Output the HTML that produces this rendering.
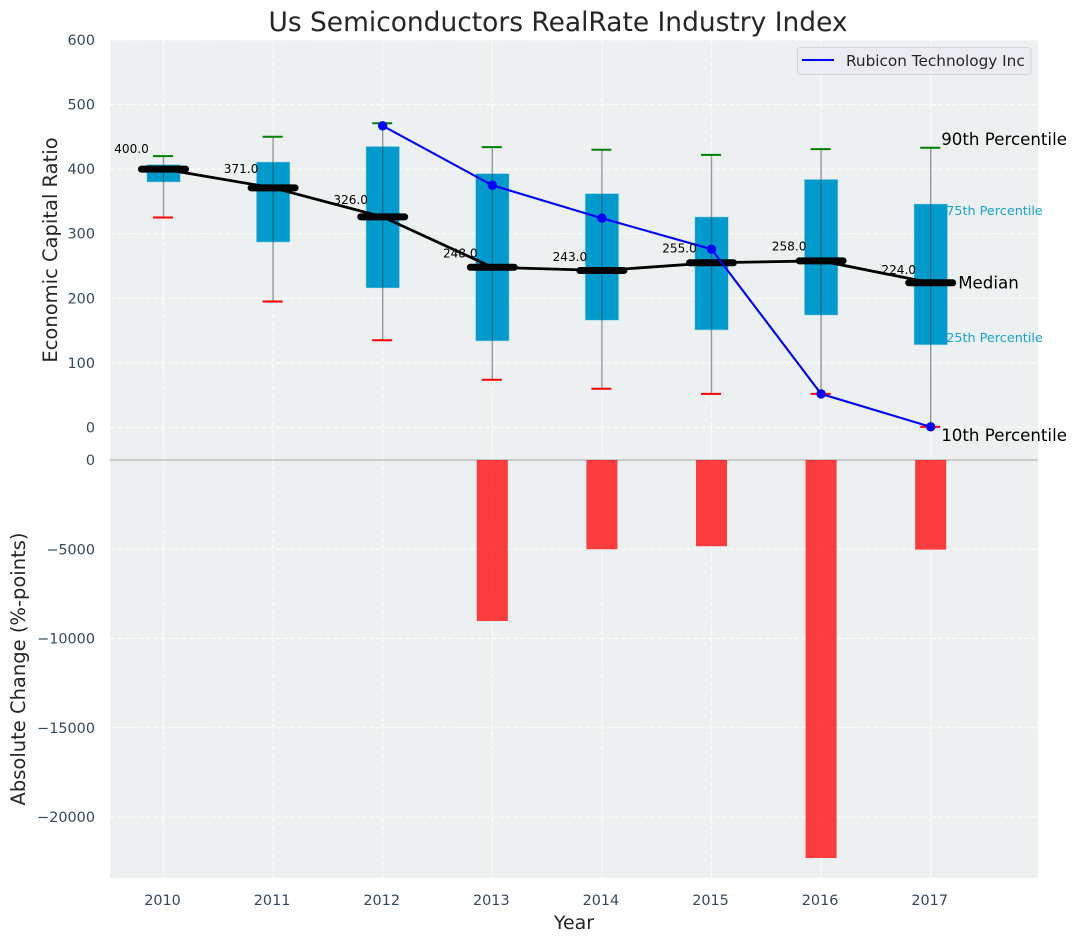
<!DOCTYPE html>
<html lang="en">
<head>
<meta charset="utf-8">
<title>Us Semiconductors RealRate Industry Index</title>
<style>
html,body{margin:0;padding:0;background:#fff;}
svg{display:block;font-family:"DejaVu Sans","Liberation Sans",sans-serif;}
</style>
</head>
<body>
<svg id="chart" xmlns="http://www.w3.org/2000/svg" width="1076" height="942" viewBox="0 0 1076 942"></svg>
<script>
const years = [2010, 2011, 2012, 2013, 2014, 2015, 2016, 2017];
const p10 = [325, 195, 135, 74, 60, 52, 52, 1];
const p25 = [380, 287, 216, 134, 166, 151, 174, 128];
const medians = [400, 371, 326, 248, 243, 255, 258, 224];
const p75 = [407, 411, 435, 393, 362, 326, 384, 346];
const p90 = [420, 450, 471, 434, 430, 422, 431, 433];
const companyYears = [2012, 2013, 2014, 2015, 2016, 2017];
const companyValues = [467, 375, 324, 276, 52, 1];
const changeYears = [2013, 2014, 2015, 2016, 2017];
const changeValues = [-9020, -5000, -4830, -22300, -5020];
const topTicks = [0, 100, 200, 300, 400, 500, 600];
const bottomTicks = [0, -5000, -10000, -15000, -20000];

const svg = document.getElementById('chart');
const NS = 'http://www.w3.org/2000/svg';
const L = 110, R = 1038, TT = 40, TB = 459.5, BT = 460, BB = 878;
const x = v => 163.5 + (v - 2010) * 109.6;
const yTop = v => 427.5 - v * 0.646;
const yBot = v => 460 - v * 89.25 / 5000;

function make(tag, attrs, text) {
  const e = document.createElementNS(NS, tag);
  for (const k in attrs) e.setAttribute(k, attrs[k]);
  if (text !== undefined) e.textContent = text;
  svg.appendChild(e);
  return e;
}
function minus(n) { return String(n).replace('-', '\u2212'); }

let e;
e = make('rect', {x: L, y: TT, width: R - L, height: TB - TT, fill: '#ecf0f1'});


e = make('rect', {x: L, y: BT, width: R - L, height: BB - BT, fill: '#ecf0f1'});



const gridStyle = {stroke: '#ffffff', 'stroke-width': 1.2, 'stroke-dasharray': '5,2.2', 'stroke-opacity': 0.85};
years.forEach(yr => {
  e = make('line', {x1: x(yr), x2: x(yr), y1: TT, y2: BB, ...gridStyle});
  
  
  e = make('text', {x: x(yr) - 1, y: 905, 'text-anchor': 'middle', 'font-size': 14.4, fill: '#34495e'}, yr);
  
  
});
topTicks.forEach(t => {
  e = make('line', {x1: L, x2: R, y1: yTop(t), y2: yTop(t), ...gridStyle});
  
  
  e = make('text', {x: 95, y: yTop(t) + 5, 'text-anchor': 'end', 'font-size': 14.4, fill: '#34495e'}, t);
  
  
});
bottomTicks.forEach(t => {
  e = make('line', {x1: L, x2: R, y1: yBot(t), y2: yBot(t), ...gridStyle});
  
  
  e = make('text', {x: 95, y: yBot(t) + 5, 'text-anchor': 'end', 'font-size': 14.4, fill: '#34495e'}, minus(t));
  
  
});

e = make('line', {x1: L, x2: R, y1: 460, y2: 460, stroke: '#bdbdbd', 'stroke-width': 1.4});



changeYears.forEach((yr, i) => {
  const y0 = yBot(0), y1 = yBot(changeValues[i]);
  e = make('rect', {x: x(yr) - 15.5, y: y0, width: 31, height: y1 - y0, fill: '#ff0000', 'fill-opacity': 0.75});
  
  
});

years.forEach((yr, i) => {
  const cx = x(yr);
  e = make('rect', {x: cx - 16.7, y: yTop(p75[i]), width: 33.5, height: yTop(p25[i]) - yTop(p75[i]), fill: '#019acc', stroke: '#a6dcee', 'stroke-width': 0.7, 'stroke-opacity': 0.7});
  
  
  e = make('line', {x1: cx, x2: cx, y1: yTop(p90[i]), y2: yTop(p10[i]), stroke: '#2b3a42', 'stroke-opacity': 0.5, 'stroke-width': 1.4});
  
  
  e = make('line', {x1: cx - 10.5, x2: cx + 9.5, y1: yTop(p90[i]), y2: yTop(p90[i]), stroke: '#008000', 'stroke-width': 2});
  
  
  e = make('line', {x1: cx - 10.5, x2: cx + 9.5, y1: yTop(p10[i]), y2: yTop(p10[i]), stroke: '#ff0000', 'stroke-width': 2});
  
  
});

e = make('polyline', {points: years.map((yr, i) => x(yr) + ',' + yTop(medians[i])).join(' '), fill: 'none', stroke: '#000', 'stroke-width': 2.8});



years.forEach((yr, i) => {
  e = make('line', {x1: x(yr) - 22, x2: x(yr) + 22, y1: yTop(medians[i]), y2: yTop(medians[i]), stroke: '#000', 'stroke-width': 7, 'stroke-linecap': 'round'});
  
  
});

e = make('polyline', {points: companyYears.map((yr, i) => x(yr) + ',' + yTop(companyValues[i])).join(' '), fill: 'none', stroke: '#0000ff', 'stroke-width': 2.1});


companyYears.forEach((yr, i) => {
  e = make('circle', {cx: x(yr), cy: yTop(companyValues[i]), r: 4.7, fill: '#0000ff'});
  
  
});

years.forEach((yr, i) => {
  e = make('text', {x: x(yr) - 32, y: yTop(medians[i] * 1.062), 'text-anchor': 'middle', 'font-size': 12.1, fill: '#000'}, medians[i].toFixed(1));
  
  
});

const last = years.length - 1;
const lastX = x(years[last]);
e = make('text', {x: lastX + 10.5, y: yTop(p90[last]) - 3, 'font-size': 16.66, fill: '#000'}, '90th Percentile');


e = make('text', {x: lastX + 15.5, y: yTop(p75[last]) + 11, 'font-size': 12.8, fill: '#019acc', 'fill-opacity': 0.9}, '75th Percentile');


e = make('text', {x: lastX + 27.5, y: yTop(medians[last]) + 5.5, 'font-size': 16.66, fill: '#000'}, 'Median');


e = make('text', {x: lastX + 15.5, y: yTop(p25[last]) - 3, 'font-size': 12.8, fill: '#019acc', 'fill-opacity': 0.9}, '25th Percentile');


e = make('text', {x: lastX + 10.5, y: yTop(p10[last]) + 14, 'font-size': 16.66, fill: '#000'}, '10th Percentile');



e = make('rect', {x: 797.5, y: 47.5, width: 233.5, height: 27, rx: 3, fill: '#eaecf1', stroke: '#d2d4d8', 'stroke-width': 1});


e = make('line', {x1: 802, x2: 834, y1: 60, y2: 60, stroke: '#0000ff', 'stroke-width': 2.1});


e = make('text', {x: 846, y: 66, 'font-size': 15.27, fill: '#262626'}, 'Rubicon Technology Inc');



e = make('text', {x: 558, y: 31, 'text-anchor': 'middle', 'font-size': 26.46, fill: '#262626'}, 'Us Semiconductors RealRate Industry Index');


e = make('text', {x: 574, y: 929, 'text-anchor': 'middle', 'font-size': 19, fill: '#262626'}, 'Year');


e = make('text', {x: 0, y: 0, transform: 'translate(57,250) rotate(-90)', 'text-anchor': 'middle', 'font-size': 19.5, fill: '#262626'}, 'Economic Capital Ratio');


e = make('text', {x: 0, y: 0, transform: 'translate(25,669) rotate(-90)', 'text-anchor': 'middle', 'font-size': 19.5, fill: '#262626'}, 'Absolute Change (%-points)');


</script>
</body>
</html>
